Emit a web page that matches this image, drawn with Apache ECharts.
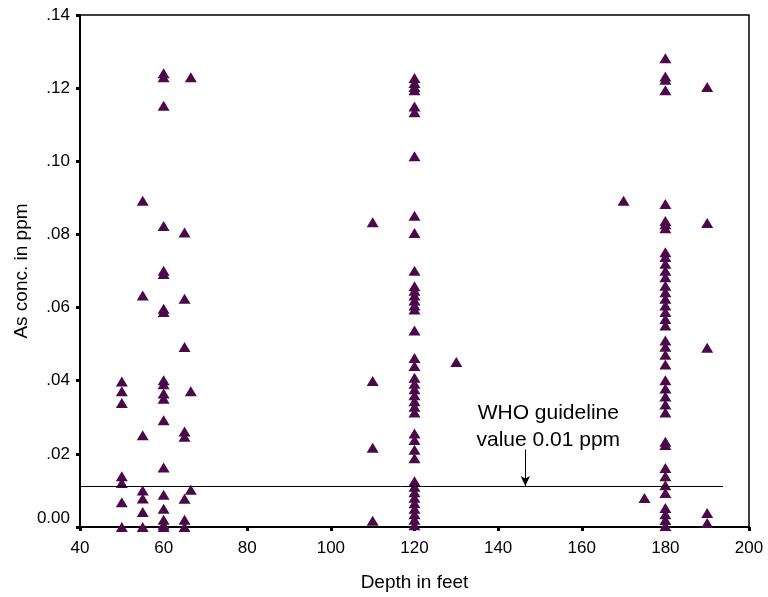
<!DOCTYPE html>
<html>
<head>
<meta charset="utf-8">
<script src="https://cdn.jsdelivr.net/npm/echarts@6/dist/echarts.min.js"></script>
<style>html,body{margin:0;padding:0;background:#fff}#c{width:768px;height:597px}</style>
</head>
<body>
<div id="c"></div>
<script>
// Depth (feet) groups and As concentration (ppm) values
const depth50 = [0.0398, 0.0371, 0.0339, 0.0139, 0.0120, 0.0068, 0.0000];
const depth55 = [0.0892, 0.0633, 0.0251, 0.0100, 0.0078, 0.0041, 0.0000];
const depth60 = [0.1241, 0.1230, 0.1152, 0.0823, 0.0701, 0.0692, 0.0597, 0.0588, 0.0401, 0.0390, 0.0365, 0.0351, 0.0292, 0.0163, 0.0088, 0.0050, 0.0020, 0.0006, 0.0000];
const depth65 = [0.0805, 0.0624, 0.0492, 0.0261, 0.0247, 0.0077, 0.0020, 0.0000];
const depth66 = [0.1230, 0.0371, 0.0102];
const depth110 = [0.0833, 0.0399, 0.0217, 0.0017];
const depth120 = [0.1228, 0.1214, 0.1203, 0.1194, 0.1150, 0.1134, 0.1014, 0.0851, 0.0804, 0.0701, 0.0658, 0.0646, 0.0633, 0.0619, 0.0606, 0.0595, 0.0537, 0.0462, 0.0440, 0.0408, 0.0392, 0.0377, 0.0360, 0.0344, 0.0329, 0.0313, 0.0256, 0.0238, 0.0211, 0.0188, 0.0125, 0.0110, 0.0095, 0.0080, 0.0065, 0.0050, 0.0035, 0.0020, 0.0005];
const depth130 = [0.0451];
const depth170 = [0.0892];
const depth175 = [0.0079];
const depth180 = [0.1282, 0.1232, 0.1223, 0.1194, 0.0883, 0.0837, 0.0828, 0.0817, 0.0751, 0.0738, 0.0720, 0.0701, 0.0683, 0.0660, 0.0642, 0.0624, 0.0606, 0.0588, 0.0569, 0.0551, 0.0510, 0.0493, 0.0471, 0.0444, 0.0401, 0.0379, 0.0357, 0.0335, 0.0313, 0.0233, 0.0224, 0.0161, 0.0139, 0.0114, 0.0093, 0.0052, 0.0035, 0.0019, 0.0003];
const depth190 = [0.1203, 0.0831, 0.0490, 0.0038, 0.0011];

const groups = [
  [50, depth50], [55, depth55], [60, depth60], [65, depth65], [66.5, depth66],
  [110, depth110], [120, depth120], [130, depth130], [170, depth170],
  [175, depth175], [180, depth180], [190, depth190]
];

const xTicks = [40, 60, 80, 100, 120, 140, 160, 180, 200];
const yTicks = [0, 0.02, 0.04, 0.06, 0.08, 0.10, 0.12, 0.14];
const yTickLabels = ['0.00', '.02', '.04', '.06', '.08', '.10', '.12', '.14'];

const whoValue = 0.0112;      // drawn guideline position
const whoLineX = [40, 193.8];
const arrowX = 146.5;
const arrowTop = 0.0212;
const noteX = 152;
const noteY = 0.0275;
const noteText = 'WHO guideline\nvalue 0.01 ppm';

const points = [];
groups.forEach(([d, vals]) => vals.forEach(v => points.push([d, v])));

const font = 'Liberation Sans, Arial, Helvetica, sans-serif';
const chart = echarts.init(document.getElementById('c'), null, {renderer: 'canvas'});
chart.setOption({
  animation: false,
  backgroundColor: '#fff',
  grid: {left: 80, right: 19, top: 15, bottom: 68, show: true, borderColor: '#000', borderWidth: 1.5, backgroundColor: 'transparent'},
  xAxis: {
    type: 'value', min: 40, max: 200, interval: 20,
    name: 'Depth in feet', nameLocation: 'middle', nameGap: 46,
    nameTextStyle: {fontFamily: font, fontSize: 19, color: '#000'},
    axisLine: {show: true, lineStyle: {color: '#000', width: 2}},
    axisTick: {show: true, length: 4, lineStyle: {color: '#000', width: 3}},
    axisLabel: {fontFamily: font, fontSize: 17, color: '#000', margin: 13, formatter: v => String(v)},
    splitLine: {show: false}
  },
  yAxis: {
    type: 'value', min: 0, max: 0.14, interval: 0.02,
    name: 'As conc. in ppm', nameLocation: 'middle', nameGap: 49, nameMoveOverlap: false,
    nameTextStyle: {fontFamily: font, fontSize: 19, color: '#000'},
    axisLine: {show: true, lineStyle: {color: '#000', width: 2}},
    axisTick: {show: true, length: 4, lineStyle: {color: '#000', width: 3}},
    axisLabel: {fontFamily: font, fontSize: 17, color: '#000', margin: 10,
      formatter: v => {
        const i = yTicks.findIndex(t => Math.abs(t - v) < 1e-9);
        if (i < 0) return '';
        return i === 0 ? '{z|' + yTickLabels[i] + '}' : yTickLabels[i];
      },
      rich: {z: {fontFamily: font, fontSize: 17, color: '#000', padding: [0, 0, 18, 0]}}
    },
    splitLine: {show: false}
  },
  series: [{
    type: 'scatter',
    data: points,
    symbol: 'triangle',
    symbolSize: [12, 10],
    itemStyle: {color: '#4a0a4a', opacity: 1},
    z: 3,
    markLine: {
      silent: true,
      symbol: 'none',
      label: {show: false},
      lineStyle: {color: '#000', width: 1, type: 'solid'},
      data: [
        [{coord: [whoLineX[0], whoValue]}, {coord: [whoLineX[1], whoValue]}],
        [{coord: [arrowX, arrowTop], symbol: 'none'}, {coord: [arrowX, whoValue], symbol: 'arrow', symbolSize: [7, 10]}]
      ]
    },
    markPoint: {
      silent: true,
      data: [{
        coord: [noteX, noteY], symbol: 'circle', symbolSize: 0,
        label: {show: true, position: 'inside', formatter: noteText, fontFamily: font, fontSize: 21, color: '#000', lineHeight: 27, align: 'center'}
      }]
    }
  }]
});
</script>
</body>
</html>
